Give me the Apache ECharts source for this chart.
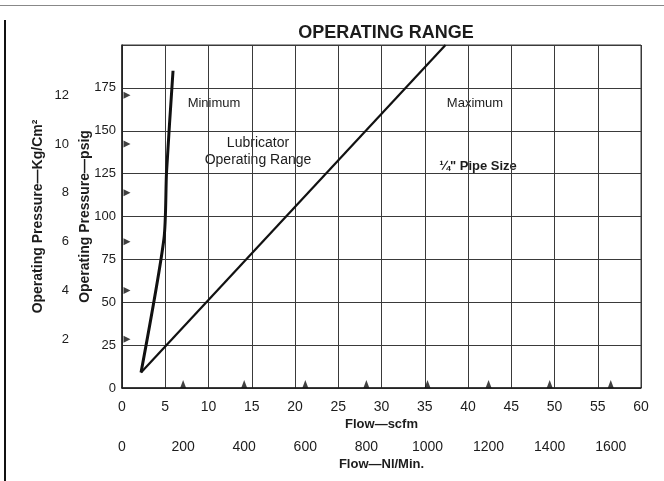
<!DOCTYPE html>
<html>
<head>
<meta charset="utf-8">
<script src="https://cdn.jsdelivr.net/npm/echarts@6/dist/echarts.min.js"></script>
<style>html,body{margin:0;padding:0;background:#fff;}#c{width:664px;height:481px;}</style>
</head>
<body>
<div id="c"></div>
<script>
// ---- data ----
const minimumCurve = [[2.2, 9], [4.85, 87], [5.15, 126], [5.9, 185]];
const maximumLine = [[2.2, 9], [37.4, 200]];
const kgMarks = [2, 4, 6, 8, 10, 12];
const nlMarks = [200, 400, 600, 800, 1000, 1200, 1400, 1600];
const PSI_PER_KG = 14.223;
const NL_PER_SCFM = 28.317;
const SCFM_MAX = 60;
const PSIG_MAX = 200;

const ink = '#1c1c1c';
const gridInk = '#3a3a3a';
const FONT = "'Liberation Sans Narrow', 'Liberation Sans', sans-serif";

const chart = echarts.init(document.getElementById('c'), null, {renderer: 'canvas'});
chart.setOption({
  backgroundColor: '#fff',
  animation: false,
  title: {
    text: 'OPERATING RANGE', left: 381, top: 19, textAlign: 'center',
    textStyle: {fontFamily: FONT, fontSize: 18, fontWeight: 'bold', color: ink}
  },
  grid: {left: 122, right: 23, top: 45, bottom: 93, show: true, borderColor: gridInk, borderWidth: 1},
  xAxis: [
    {
      type: 'value', min: 0, max: SCFM_MAX, interval: 5, position: 'bottom',
      name: 'Flow—scfm', nameLocation: 'middle', nameGap: 30, nameMoveOverlap: false,
      nameTextStyle: {fontFamily: FONT, fontWeight: 'bold', fontSize: 13, color: ink},
      axisLine: {show: true, lineStyle: {color: ink, width: 1.5}},
      axisTick: {show: false},
      axisLabel: {fontFamily: FONT, fontSize: 14, color: ink, margin: 12},
      splitLine: {show: true, lineStyle: {color: gridInk, width: 1}}
    },
    {
      type: 'value', min: 0, max: SCFM_MAX * NL_PER_SCFM, interval: 200, position: 'bottom', offset: 40,
      name: 'Flow—Nl/Min.', nameLocation: 'middle', nameGap: 30, nameMoveOverlap: false,
      nameTextStyle: {fontFamily: FONT, fontWeight: 'bold', fontSize: 13, color: ink},
      axisLine: {show: false}, axisTick: {show: false},
      axisLabel: {fontFamily: FONT, fontSize: 14, color: ink, margin: 12, formatter: v => String(v)},
      splitLine: {show: false}
    }
  ],
  yAxis: [
    {
      type: 'value', min: 0, max: PSIG_MAX, interval: 25, position: 'left',
      name: 'Operating Pressure—psig', nameLocation: 'middle', nameGap: 30, nameRotate: 90, nameMoveOverlap: false,
      nameTextStyle: {fontFamily: FONT, fontWeight: 'bold', fontSize: 14, color: ink},
      axisLine: {show: true, lineStyle: {color: ink, width: 1.5}},
      axisTick: {show: false},
      axisLabel: {fontFamily: FONT, fontSize: 13, color: ink, margin: 6,
        formatter: v => (v >= PSIG_MAX ? '' : String(v))},
      splitLine: {show: true, lineStyle: {color: gridInk, width: 1}}
    },
    {
      type: 'value', min: 0, max: PSIG_MAX / PSI_PER_KG, interval: 2, position: 'left', offset: 45,
      name: 'Operating Pressure—Kg/Cm²', nameLocation: 'middle', nameGap: 32, nameRotate: 90, nameMoveOverlap: false,
      nameTextStyle: {fontFamily: FONT, fontWeight: 'bold', fontSize: 14, color: ink},
      axisLine: {show: false}, axisTick: {show: false},
      axisLabel: {fontFamily: FONT, fontSize: 13, color: ink, margin: 8,
        formatter: v => (kgMarks.indexOf(v) >= 0 ? String(v) : '')},
      splitLine: {show: false}
    }
  ],
  graphic: [
    {type: 'line', shape: {x1: 0, y1: 5.5, x2: 664, y2: 5.5}, style: {stroke: '#888', lineWidth: 1}, silent: true},
    {type: 'line', shape: {x1: 5, y1: 20, x2: 5, y2: 481}, style: {stroke: '#111', lineWidth: 2}, silent: true},
    {type: 'text', x: 214, y: 103, style: {text: 'Minimum', font: "13px " + FONT, fill: ink, align: 'center', verticalAlign: 'middle'}},
    {type: 'text', x: 475, y: 103, style: {text: 'Maximum', font: "13px " + FONT, fill: ink, align: 'center', verticalAlign: 'middle'}},
    {type: 'text', x: 258, y: 143, style: {text: 'Lubricator', font: "14px " + FONT, fill: ink, align: 'center', verticalAlign: 'middle'}},
    {type: 'text', x: 258, y: 160, style: {text: 'Operating Range', font: "14px " + FONT, fill: ink, align: 'center', verticalAlign: 'middle'}},
    {type: 'text', x: 478, y: 166, style: {text: '¼" Pipe Size', font: "bold 13px " + FONT, fill: ink, align: 'center', verticalAlign: 'middle'}}
  ],
  series: [
    {
      name: 'Minimum', type: 'line', data: minimumCurve, smooth: 0.25, symbol: 'none',
      lineStyle: {color: '#111', width: 3}, xAxisIndex: 0, yAxisIndex: 0
    },
    {
      name: 'Maximum', type: 'line', data: maximumLine, symbol: 'none',
      lineStyle: {color: '#111', width: 2.2}, xAxisIndex: 0, yAxisIndex: 0
    },
    {
      name: 'kg marks', type: 'scatter', xAxisIndex: 0, yAxisIndex: 1, clip: false,
      data: kgMarks.map(k => [0, k]), symbol: 'triangle', symbolRotate: -90,
      symbolSize: [7, 7], symbolOffset: [5, 0], itemStyle: {color: '#111'}, silent: true
    },
    {
      name: 'Nl marks', type: 'scatter', xAxisIndex: 1, yAxisIndex: 0, clip: false,
      data: nlMarks.map(n => [n, 0]), symbol: 'triangle',
      symbolSize: [6, 8], symbolOffset: [0, -4], itemStyle: {color: '#111'}, silent: true
    }
  ]
});
</script>
</body>
</html>
